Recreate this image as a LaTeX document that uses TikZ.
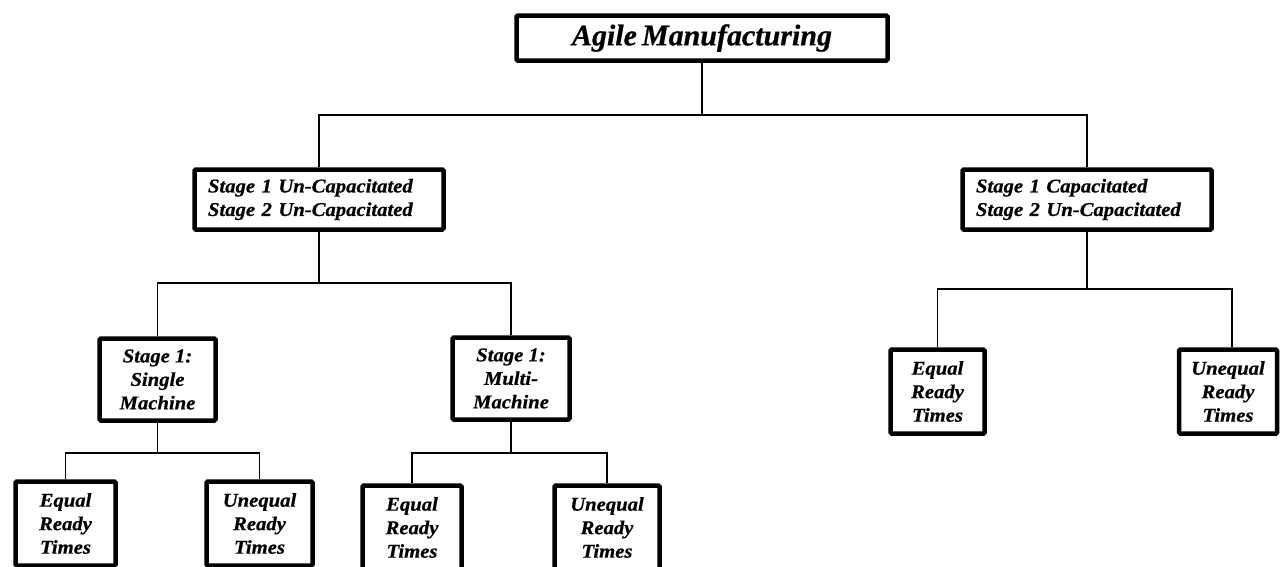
\documentclass[tikz,border=0pt]{standalone}
\usepackage{fontspec}
\newfontfamily\boxfont{Liberation Serif}[FakeStretch=1.06,FakeBold=0.6]
\newfontfamily\titlefont{Liberation Serif}[FakeBold=0.6]
\newcommand\tightwords{\spaceskip 5pt\relax}
\begin{document}
\begin{tikzpicture}[x=1pt,y=-1pt,
  box/.style={draw=black,line width=4.5pt,rounded corners=1.2pt,fill=white,
    inner sep=0pt,align=center,text=black,
    font={\boxfont\bfseries\itshape\fontsize{19.5}{23.5}\selectfont}},
  titlebox/.style={box,font={\titlefont\bfseries\itshape\fontsize{30}{32}\selectfont\tightwords}},
  stagebox/.style={box,align=left,text width=222pt,inner xsep=13.5pt},
  link/.style={draw=black,line width=1.5pt}]
\fill[white] (0,0) rectangle (1280,566);
\useasboundingbox (0,0) rectangle (1280,566);

% root
\node[titlebox,minimum width=371pt,minimum height=45pt] (top) at (702,38) {Agile Manufacturing};

% second level
\node[stagebox,minimum height=60pt] (midL) at (319,199.5)
  {Stage 1 Un-Capacitated\\Stage 2 Un-Capacitated};
\node[stagebox,minimum height=60pt] (midR) at (1087,199.5)
  {Stage 1 Capacitated\\Stage 2 Un-Capacitated};

% third level (left branch)
\node[box,minimum width=116pt,minimum height=82pt] (single) at (157.5,379.5)
  {Stage 1:\\Single\\Machine};
\node[box,minimum width=117pt,minimum height=82pt] (multi) at (511,378.5)
  {Stage 1:\\Multi-\\Machine};

% leaves, right branch
\node[box,minimum width=94pt,minimum height=84pt] (rEq) at (937.5,391.5)
  {Equal\\Ready\\Times};
\node[box,minimum width=98pt,minimum height=84pt] (rUneq) at (1228,391.5)
  {Unequal\\Ready\\Times};

% leaves under the single machine
\node[box,minimum width=100pt,minimum height=84pt] (sEq) at (65.5,523.5)
  {Equal\\Ready\\Times};
\node[box,minimum width=106pt,minimum height=84pt] (sUneq) at (259.5,523.5)
  {Unequal\\Ready\\Times};

% leaves under the multi-machine
\node[box,minimum width=99pt,minimum height=84pt] (mEq) at (412,527.5)
  {Equal\\Ready\\Times};
\node[box,minimum width=105pt,minimum height=84pt] (mUneq) at (607,527.5)
  {Unequal\\Ready\\Times};

% junction levels of the tree
\coordinate (j0) at (0,115);
\coordinate (j1) at (0,283);
\coordinate (j2) at (0,289);
\coordinate (j3) at (0,453);

% connectors
\draw[link] (top.south) -- (top.south |- j0);
\draw[link] (midL.north) |- (top.south |- j0) -| (midR.north);

\draw[link] (midL.south) -- (midL.south |- j1);
\draw[link] (single.north) |- (midL.south |- j1) -| (multi.north);

\draw[link] (midR.south) -- (midR.south |- j2);
\draw[link] (rEq.north) |- (midR.south |- j2) -| ([xshift=4pt]rUneq.north);

\draw[link] (single.south) -- (single.south |- j3);
\draw[link] (sEq.north) |- (single.south |- j3) -| (sUneq.north);

\draw[link] (multi.south) -- (multi.south |- j3);
\draw[link] (mEq.north) |- (multi.south |- j3) -| (mUneq.north);
\end{tikzpicture}
\end{document}
